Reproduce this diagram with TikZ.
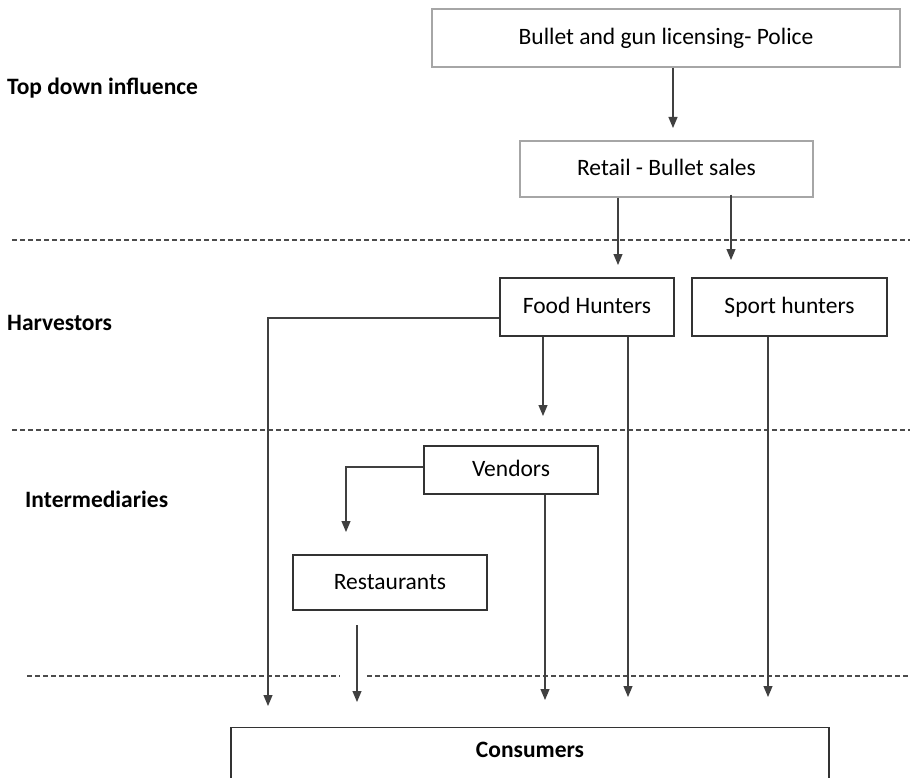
\documentclass[tikz,border=0pt]{standalone}
\usepackage{fontspec}
\setmainfont{Carlito}
\usetikzlibrary{arrows.meta}
\begin{document}
\begin{tikzpicture}[x=1pt,y=-1pt,
  txt/.style={font=\fontsize{23.5}{28}\selectfont,text height=15pt,text depth=2pt},
  lightbox/.style={txt,draw=black!35,line width=1.2pt,rectangle,inner sep=0pt},
  darkbox/.style={txt,draw=black!80,line width=1.3pt,rectangle,inner sep=0pt},
  lvl/.style={anchor=west,inner sep=0pt,font=\fontsize{23.5}{28}\selectfont\bfseries},
  conn/.style={draw=black!75,line width=1.1pt},
  arr/.style={conn,-{Triangle[width=9pt,length=11pt]}},
  sep/.style={draw=black!70,line width=1.2pt,dash pattern=on 5pt off 3pt}]
\useasboundingbox (0,0) rectangle (910,778);
\clip (0,0) rectangle (910,778);
\fill[white] (0,0) rectangle (910,778);
% separators
\draw[sep] (12,240) -- (910,240);
\draw[sep] (12,430) -- (910,430);
\draw[sep] (27,676) -- (340,676);
\draw[sep] (367,676) -- (910,676);
% level labels
\node[lvl] (tdi) at (7,88) {Top down influence};
\node[lvl] (harv) at (7,323) {Harvestors};
\node[lvl] (inter) at (25,499) {Intermediaries};
% boxes
\node[lightbox,minimum width=468pt,minimum height=58pt] (police) at (666,38) {Bullet and gun licensing- Police};
\node[lightbox,minimum width=293pt,minimum height=56pt] (retail) at (666.5,169) {Retail - Bullet sales};
\node[darkbox,minimum width=174pt,minimum height=58pt] (food) at (587,307) {Food Hunters};
\node[darkbox,minimum width=195pt,minimum height=58pt] (sport) at (789.5,307) {Sport hunters};
\node[darkbox,minimum width=174pt,minimum height=48pt] (vend) at (511,470) {Vendors};
\node[darkbox,minimum width=194pt,minimum height=55pt] (rest) at (390,582.5) {Restaurants};
\node[darkbox,minimum width=598pt,minimum height=90pt,anchor=north] (cons) at (530,727) {};
\node[font=\fontsize{23.5}{28}\selectfont\bfseries] (conslbl) at (530,750) {Consumers};
% free ends
\coordinate (c1) at (268,706);
\coordinate (c2) at (357,702);
\coordinate (c3) at (545,700);
\coordinate (c4) at (628,697);
\coordinate (c5) at (768,697);
\coordinate (fhe) at (543,416);
\coordinate (rte) at (346,532);
\coordinate (r1) at (618,265);
\coordinate (r2) at (731,260);
% connectors
\draw[arr] (police.south -| 673,0) -- (673,128);
\draw[arr] (retail.south -| r1) -- (r1);
\draw[arr] ([yshift=3pt]retail.south -| r2) -- (r2);
\draw[arr] (food.south -| fhe) -- (fhe);
\draw[arr] (food.west |- 0,318) -| (c1);
\draw[arr] (food.south -| c4) -- (c4);
\draw[arr] (sport.south -| c5) -- (c5);
\draw[arr] (vend.west |- 0,467) -| (rte);
\draw[arr] (vend.south -| c3) -- (c3);
\draw[arr] (357,625) -- (c2);
\end{tikzpicture}
\end{document}
